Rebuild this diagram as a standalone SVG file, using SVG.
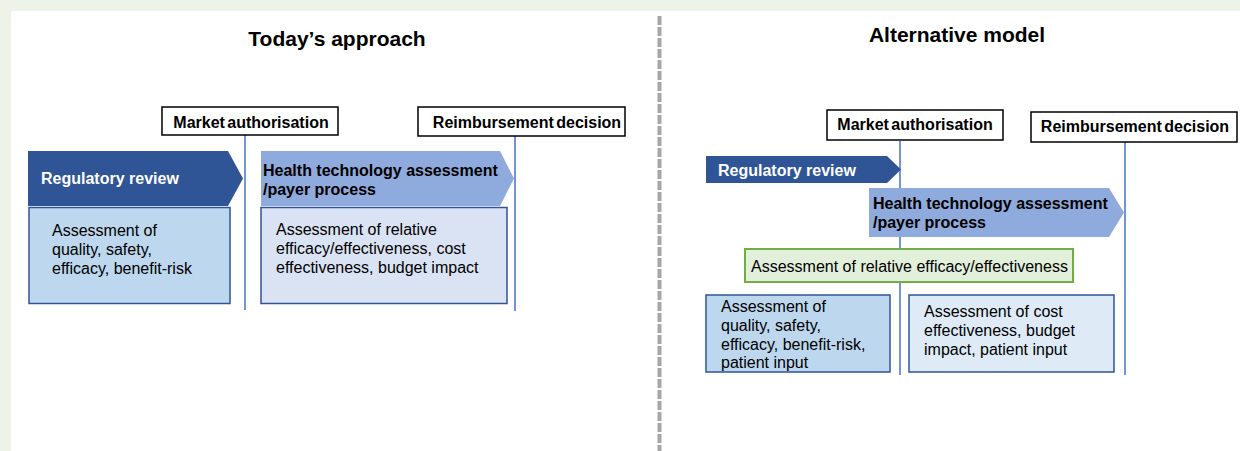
<svg xmlns="http://www.w3.org/2000/svg" width="1240" height="451" viewBox="0 0 1240 451">
  <style>
    .title { font-family: "Liberation Sans", Arial, sans-serif; font-size: 21px; font-weight: bold; fill: #000; }
    .milestone rect { fill: #fff; stroke: #000; stroke-width: 1.5; }
    .milestone text { font-family: "Liberation Sans", Arial, sans-serif; font-size: 16px; font-weight: bold; fill: #000; word-spacing: -2px; }
    .stage-text { font-family: "Liberation Sans", Arial, sans-serif; font-size: 16px; font-weight: bold; }
    .body-text { font-family: "Liberation Sans", Arial, sans-serif; font-size: 16px; fill: #000; }
    .reg { fill: #2F5597; }
    .hta { fill: #8FAADC; }
    .box-reg { fill: #BDD7EE; stroke: #2F5597; stroke-width: 1.5; }
    .box-hta { fill: #DAE3F3; stroke: #2F5597; stroke-width: 1.5; }
    .box-cost { fill: #DEEBF7; stroke: #2F5597; stroke-width: 1.5; }
    .box-rel { fill: #E2EFDA; stroke: #70AD47; stroke-width: 2; }
    .timeline { stroke: #4472C4; stroke-width: 1.5; fill: none; }
  </style>

  <!-- page background and white panel -->
  <rect x="0" y="0" width="1240" height="451" fill="#EDF3E8"/>
  <rect x="11" y="11" width="1229" height="440" fill="#FFFFFF"/>

  <!-- divider between the two panels -->
  <line x1="659.5" y1="16" x2="659.5" y2="451" stroke="#A6A6A6" stroke-width="4" stroke-dasharray="9 2"/>

  <!-- titles -->
  <text class="title" x="337" y="46" text-anchor="middle">Today’s approach</text>
  <text class="title" x="957" y="42" text-anchor="middle">Alternative model</text>

  <!-- timeline connectors -->
  <g id="connectors">
    <line class="timeline" x1="245" y1="135" x2="245" y2="310"/>
    <line class="timeline" x1="515" y1="136" x2="515" y2="311"/>
    <line class="timeline" x1="900" y1="141" x2="900" y2="375"/>
    <line class="timeline" x1="1125" y1="142" x2="1125" y2="375"/>
  </g>

  <!-- left panel: today's approach -->
  <g id="left-market-authorisation" class="milestone">
    <rect x="162" y="107" width="176" height="28"/>
    <text x="251" y="128" text-anchor="middle">Market authorisation</text>
  </g>
  <g id="left-reimbursement-decision" class="milestone">
    <rect x="418" y="107" width="207" height="29"/>
    <text x="527" y="128" text-anchor="middle">Reimbursement decision</text>
  </g>

  <g id="left-regulatory-review">
    <polygon class="reg" points="28,151 228,151 243,178.5 228,206 28,206"/>
    <text class="stage-text" x="41" y="184" fill="#FFFFFF">Regulatory review</text>
  </g>
  <g id="left-regulatory-assessment">
    <rect class="box-reg" x="29" y="207.5" width="201" height="96"/>
    <text class="body-text" x="52" y="236">Assessment of</text>
    <text class="body-text" x="52" y="255">quality, safety,</text>
    <text class="body-text" x="52" y="274">efficacy, benefit-risk</text>
  </g>

  <g id="left-hta">
    <polygon class="hta" points="261,151 500,151 514,178.5 500,206 261,206"/>
    <text class="stage-text" x="263" y="176" fill="#000">Health technology assessment</text>
    <text class="stage-text" x="263" y="195" fill="#000">/payer process</text>
  </g>
  <g id="left-hta-assessment">
    <rect class="box-hta" x="261" y="207.5" width="246" height="96"/>
    <text class="body-text" x="276" y="235">Assessment of relative</text>
    <text class="body-text" x="276" y="254">efficacy/effectiveness, cost</text>
    <text class="body-text" x="276" y="273">effectiveness, budget impact</text>
  </g>

  <!-- right panel: alternative model -->
  <g id="right-market-authorisation" class="milestone">
    <rect x="827" y="110" width="176" height="30"/>
    <text x="915" y="130" text-anchor="middle">Market authorisation</text>
  </g>
  <g id="right-reimbursement-decision" class="milestone">
    <rect x="1031" y="112" width="206" height="30"/>
    <text x="1135" y="132" text-anchor="middle">Reimbursement decision</text>
  </g>

  <g id="right-regulatory-review">
    <polygon class="reg" points="706,156 887,156 901,169.5 887,183 706,183"/>
    <text class="stage-text" x="718" y="176" fill="#FFFFFF">Regulatory review</text>
  </g>

  <g id="right-hta">
    <polygon class="hta" points="869,188 1109,188 1124,212.5 1109,237 869,237"/>
    <text class="stage-text" x="873" y="209" fill="#000">Health technology assessment</text>
    <text class="stage-text" x="873" y="228" fill="#000">/payer process</text>
  </g>

  <g id="right-relative-efficacy">
    <rect class="box-rel" x="745" y="249" width="328" height="33"/>
    <text class="body-text" x="751" y="272">Assessment of relative efficacy/effectiveness</text>
  </g>

  <g id="right-regulatory-assessment">
    <rect class="box-reg" x="706" y="295" width="184" height="77"/>
    <text class="body-text" x="721" y="312">Assessment of</text>
    <text class="body-text" x="721" y="331">quality, safety,</text>
    <text class="body-text" x="721" y="350">efficacy, benefit-risk,</text>
    <text class="body-text" x="721" y="368">patient input</text>
  </g>

  <g id="right-cost-assessment">
    <rect class="box-cost" x="909" y="295" width="205" height="77"/>
    <text class="body-text" x="924" y="317">Assessment of cost</text>
    <text class="body-text" x="924" y="336">effectiveness, budget</text>
    <text class="body-text" x="924" y="355">impact, patient input</text>
  </g>
</svg>
